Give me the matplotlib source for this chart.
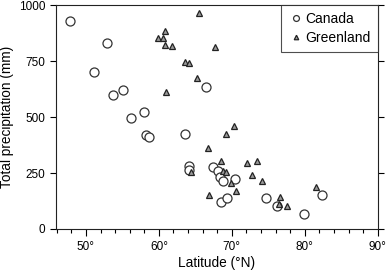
import matplotlib
matplotlib.use('Agg')
import matplotlib.pyplot as plt
from matplotlib.ticker import MultipleLocator, FuncFormatter

plt.rcParams['font.family'] = ['Liberation Sans', 'DejaVu Sans']

# Canada stations: latitude (°N), total precipitation (mm)
canada_lat = [47.8, 52.9, 51.1, 53.7, 55.1, 56.2, 58.0, 58.2, 58.7, 63.6, 64.1, 64.1,
              66.5, 67.4, 68.1, 68.4, 68.8, 70.5, 68.5, 69.4, 74.7, 76.2, 79.9, 82.4]
canada_prec = [929, 830, 701, 598, 621, 496, 522, 420, 411, 424, 281, 263,
               634, 277, 259, 232, 214, 223, 121, 138, 138, 103, 67, 152]

# Greenland stations
green_lat = [65.5, 60.9, 59.9, 60.6, 60.9, 61.8, 67.7, 63.6, 64.1, 65.2, 61.0, 70.3,
             69.2, 66.8, 68.5, 68.8, 69.2, 69.9, 70.6, 66.9, 64.4, 72.1, 73.4, 72.7,
             74.2, 76.6, 76.4, 77.5, 81.6]
green_prec = [964, 884, 853, 853, 821, 817, 813, 746, 741, 674, 612, 460,
              424, 362, 304, 259, 254, 205, 170, 152, 254, 295, 304, 241,
              214, 143, 112, 103, 188]

fig = plt.figure(figsize=(3.9, 2.7), dpi=100)
ax = fig.add_axes([0.1436, 0.152, 0.825, 0.829])

ax.plot(canada_lat, canada_prec, 'o', ms=6.5, mfc='white', mec='#333333', mew=0.9,
        label='Canada', zorder=3)
ax.plot(green_lat, green_prec, '^', ms=5, mfc='#9a9a9a', mec='#222222', mew=0.9,
        label='Greenland', zorder=4)

ax.set_xlim(45.9, 90)
ax.set_ylim(0, 1000)
ax.xaxis.set_major_locator(MultipleLocator(10))
ax.xaxis.set_minor_locator(MultipleLocator(2))
ax.yaxis.set_major_locator(MultipleLocator(250))
ax.xaxis.set_major_formatter(FuncFormatter(lambda v, p: '%d°' % v))

ax.tick_params(axis='x', which='major', direction='out', length=5, width=0.8, labelsize=8.5, top=False)
ax.tick_params(axis='x', which='minor', direction='out', length=3, width=0.8, top=False)
ax.tick_params(axis='y', which='major', direction='out', length=4, width=0.8, labelsize=8.5)
ax.tick_params(axis='y', which='major', right=True, labelright=False)
for sp in ax.spines.values():
    sp.set_linewidth(0.8)
    sp.set_color('#222222')

ax.set_xlabel('Latitude (°N)', fontsize=9.8, labelpad=2)
ax.set_ylabel('Total precipitation (mm)', fontsize=9.8, labelpad=4)

leg = ax.legend(loc='upper right', fontsize=10, frameon=True, fancybox=False,
                borderaxespad=0, handletextpad=0.15, handlelength=1.1,
                markerscale=0.65, borderpad=0.5, labelspacing=0.35)
leg.get_frame().set_edgecolor('#222222')
leg.get_frame().set_linewidth(0.8)

fig.savefig('out.png', dpi=100)
